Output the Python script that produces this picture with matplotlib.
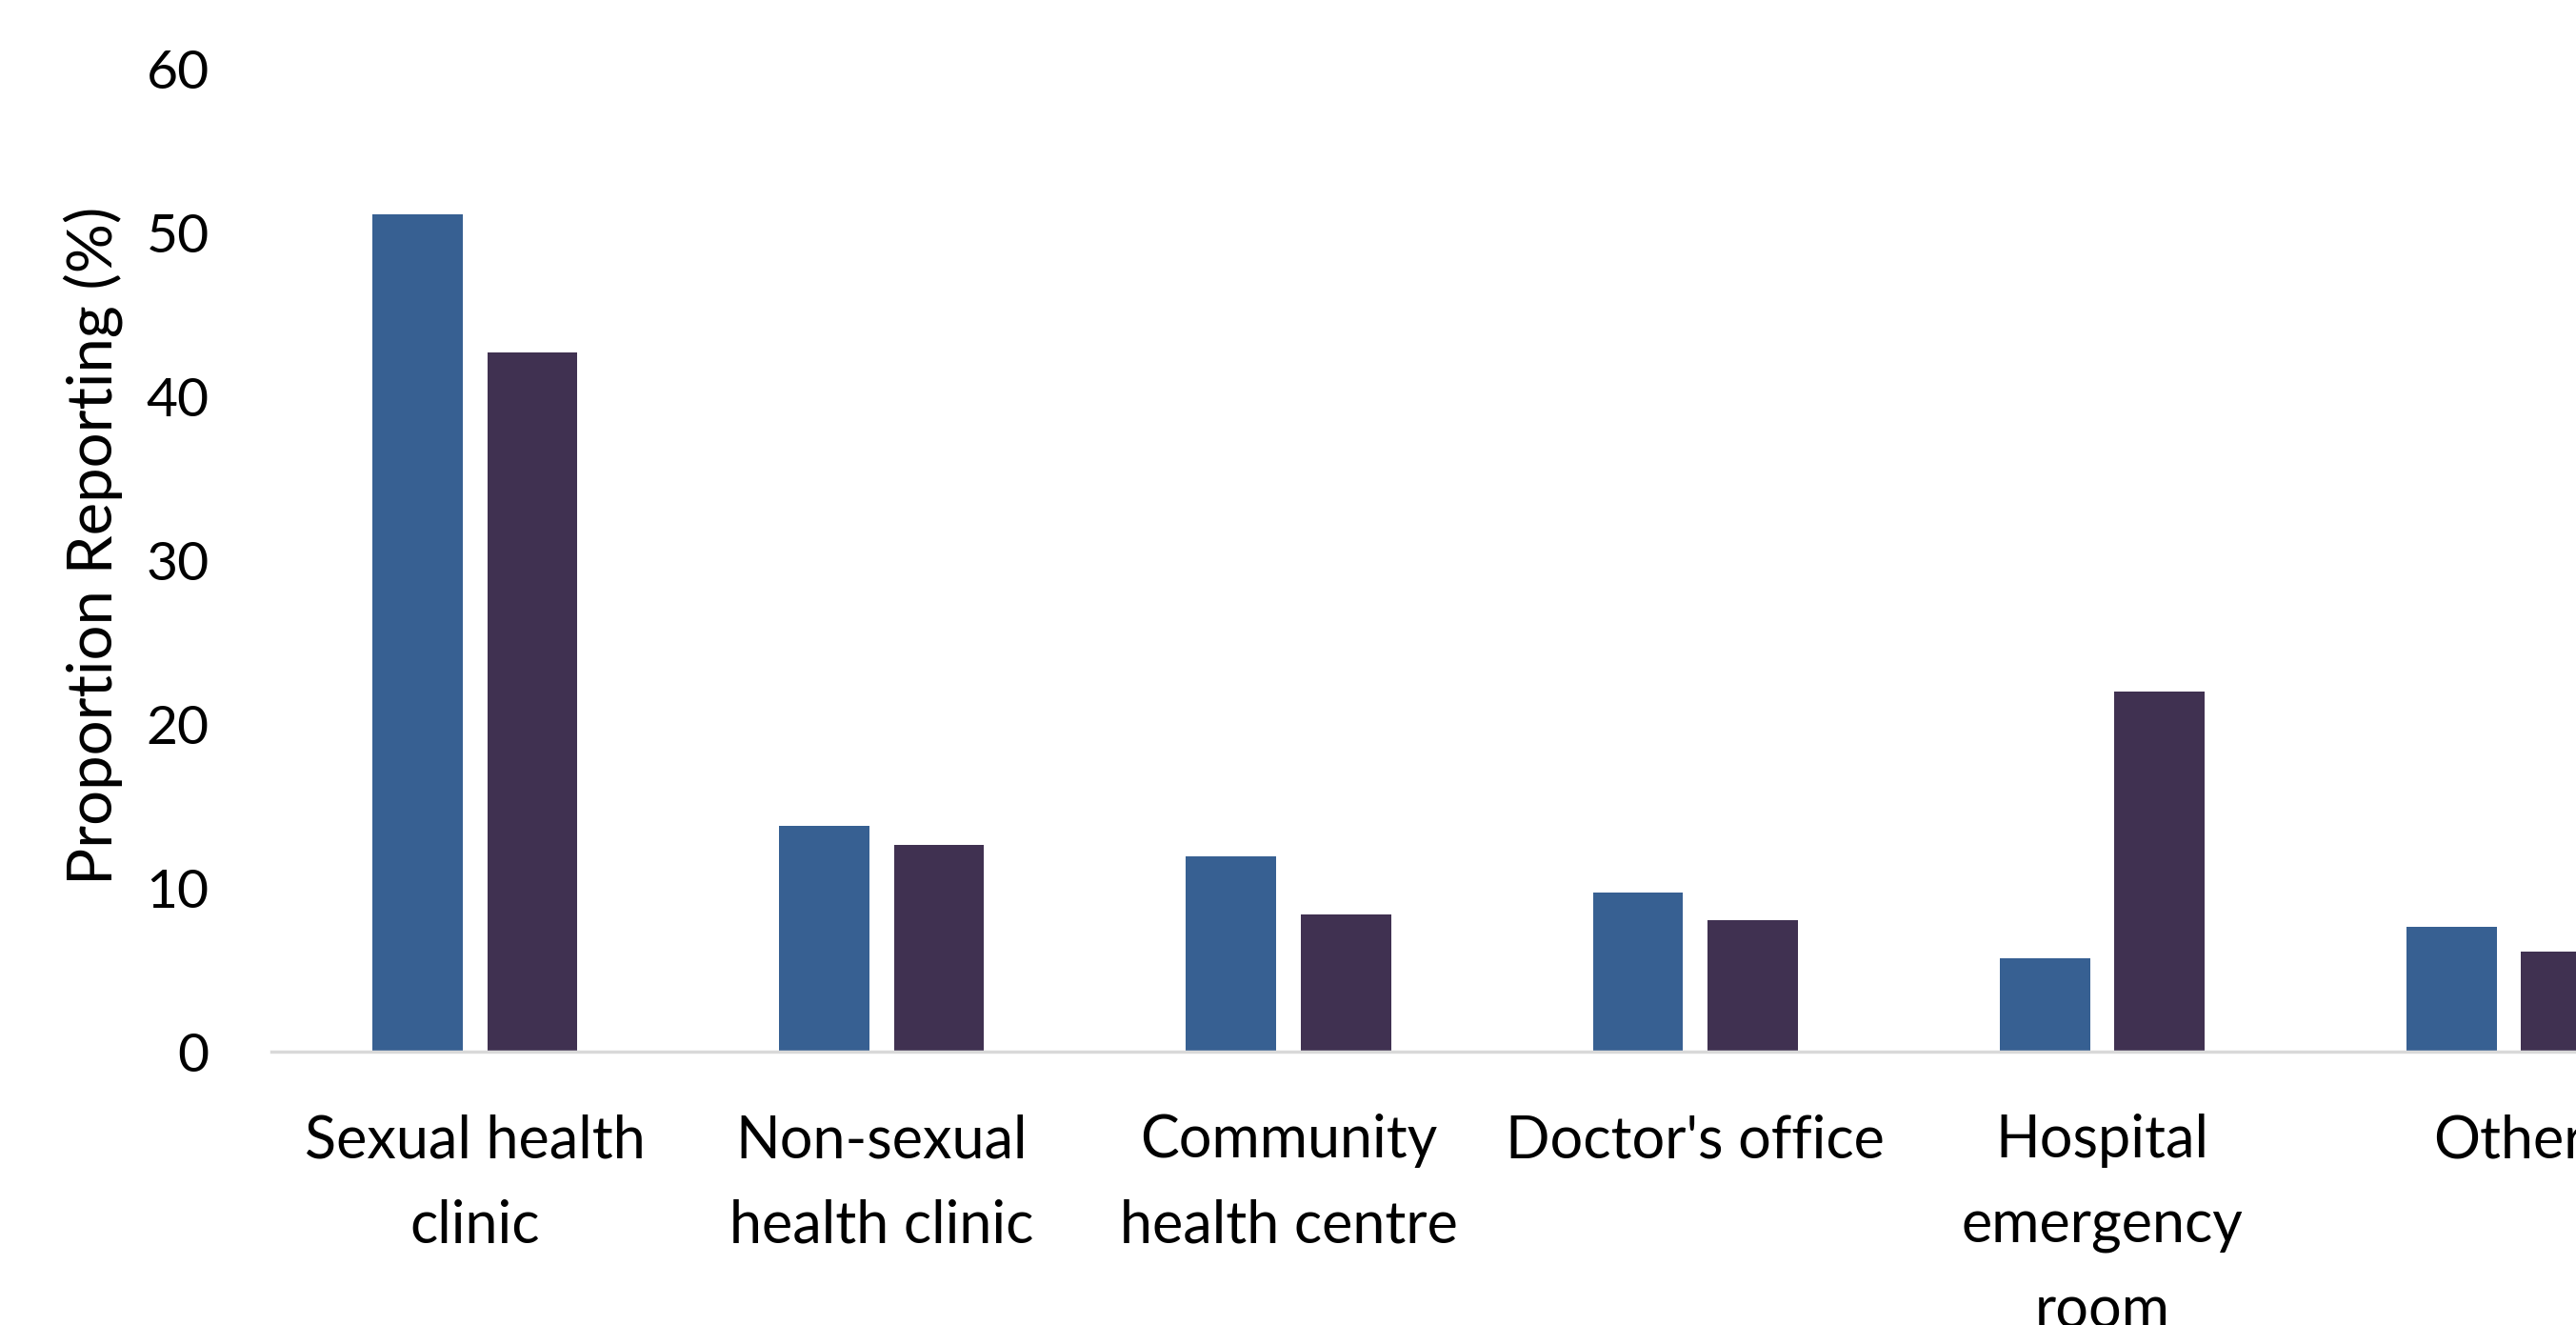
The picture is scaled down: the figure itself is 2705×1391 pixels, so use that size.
import numpy as np
import matplotlib
matplotlib.use('Agg')
import matplotlib.pyplot as plt

plt.rcParams['font.family'] = ['Lato', 'DejaVu Sans']

# Datos
categorias = ['Sexual health\nclinic', 'Non-sexual\nhealth clinic', 'Community\nhealth centre',
              "Doctor's office", 'Hospital\nemergency\nroom', 'Other']
serie_azul = [51.1, 13.8, 11.9, 9.7, 5.7, 7.6]
serie_morada = [42.7, 12.6, 8.4, 8.0, 22.0, 6.1]
y_ticks = [0, 10, 20, 30, 40, 50, 60]

COLOR_AZUL = '#376092'
COLOR_MORADO = '#403151'

fig = plt.figure(figsize=(27.05, 13.91), dpi=100)
# el eje se sale por la derecha (el original esta recortado)
ax = fig.add_axes([0.1054, 0.2063, 0.9475, 0.7419])

x = np.arange(len(categorias))
ancho = 0.222
ax.bar(x - 0.141, serie_azul, width=ancho, color=COLOR_AZUL)
ax.bar(x + 0.141, serie_morada, width=ancho, color=COLOR_MORADO)

ax.set_xlim(-0.5, len(categorias) - 0.5)
ax.set_ylim(0, 60)
ax.set_yticks(y_ticks)
ax.set_xticks(x)
ax.set_xticklabels(categorias, linespacing=1.7)

for lado in ['top', 'right', 'left']:
    ax.spines[lado].set_visible(False)
ax.spines['bottom'].set_color('#d9d9d9')
ax.spines['bottom'].set_linewidth(2.5)

ax.tick_params(axis='y', length=0, pad=47, labelsize=41)
ax.tick_params(axis='x', length=0, pad=47, labelsize=44)

ax.set_ylabel('Proportion Reporting (%)', fontsize=47)
ax.yaxis.set_label_coords(-0.061, 0.515)

plt.savefig('out.png', dpi=100)
